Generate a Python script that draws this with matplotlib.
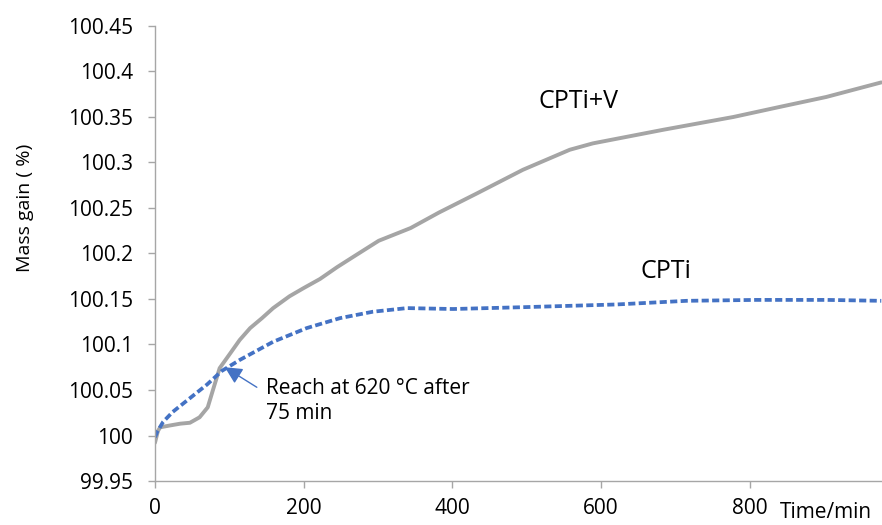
import matplotlib.pyplot as plt
from matplotlib.ticker import FuncFormatter

# ---------------------------------------------
#   Datos
# ---------------------------------------------

t_cptiv = [0, 4, 7, 20, 34, 47, 60, 71, 78, 87, 101, 114, 128, 144, 159, 181,
           200, 222, 245, 270, 301, 344, 382, 433, 495, 558, 589, 684, 778,
           840, 903, 977]
m_cptiv = [99.992, 100.005, 100.009, 100.011, 100.013, 100.014, 100.02, 100.031,
           100.05, 100.074, 100.09, 100.105, 100.118, 100.129, 100.14, 100.153,
           100.162, 100.172, 100.185, 100.198, 100.214, 100.228, 100.245,
           100.266, 100.292, 100.314, 100.321, 100.336, 100.35, 100.361,
           100.372, 100.388]

t_cpti = [0, 3, 11, 24, 47, 70, 90, 114, 159, 204, 249, 293, 339, 401, 495,
          621, 715, 809, 903, 977]
m_cpti = [99.998, 100.004, 100.015, 100.026, 100.041, 100.056, 100.071, 100.083,
          100.103, 100.118, 100.129, 100.136, 100.14, 100.139, 100.141,
          100.144, 100.148, 100.149, 100.149, 100.148]

FUENTE = "Open Sans"

fig = plt.figure(figsize=(8.82, 5.25), dpi=100)
ax = fig.add_axes([0.1757, 0.0838, 0.8243, 0.8667])

ax.plot(t_cptiv, m_cptiv, color="#A5A5A5", lw=2.8, solid_capstyle="round",
        solid_joinstyle="round")
ax.plot(t_cpti, m_cpti, color="#4472C4", lw=2.7, linestyle=(0, (1.9, 0.9)))

ax.set_xlim(0, 978)
ax.set_ylim(99.95, 100.45)
ax.set_xticks([0, 200, 400, 600, 800])
ax.set_yticks([99.95 + 0.05 * i for i in range(11)])
ax.yaxis.set_major_formatter(FuncFormatter(lambda v, p: f"{round(v, 2):g}"))

for s in ["top", "right"]:
    ax.spines[s].set_visible(False)
for s in ["left", "bottom"]:
    ax.spines[s].set_color("#A6A6A6")
    ax.spines[s].set_linewidth(1.0)
ax.tick_params(colors="#A6A6A6", labelcolor="black", labelsize=15, length=5,
               width=1.0)
ax.tick_params(axis="y", pad=11)
ax.tick_params(axis="x", pad=7)
for lab in ax.get_xticklabels() + ax.get_yticklabels():
    lab.set_family(FUENTE)

fig.text(25 / 882, 1 - 208 / 525, "Mass gain ( %)", fontsize=14, family=FUENTE,
         rotation=90, ha="center", va="center")
fig.text(826 / 882, 1 - 512 / 525, "Time/min", fontsize=15, family=FUENTE,
         ha="center", va="center")

ax.text(570, 100.367, "CPTi+V", fontsize=18, family=FUENTE, ha="center", va="center")
ax.text(688, 100.18, "CPTi", fontsize=18, family=FUENTE, ha="center", va="center")

# flecha y texto de la anotación
ax.annotate("", xy=(94, 100.075), xytext=(137, 100.053),
            arrowprops=dict(arrowstyle="-|>", color="#4472C4", lw=1.0,
                            mutation_scale=26, shrinkA=0, shrinkB=0))
ax.text(150, 100.038, "Reach at 620 °C after\n75 min", fontsize=15,
        family=FUENTE, ha="left", va="center", linespacing=1.3)

plt.savefig("out.png", dpi=100)
plt.close()
